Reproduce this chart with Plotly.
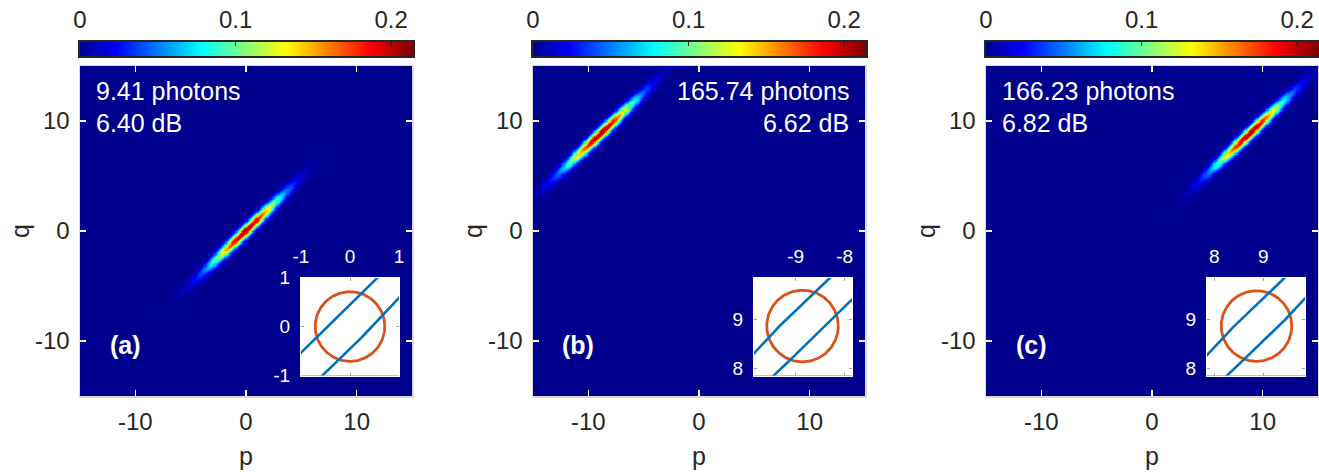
import numpy as np
import plotly.graph_objects as go

# ---------------- data ----------------
panel_labels = ["(a)", "(b)", "(c)"]
photon_text = ["9.41 photons", "165.74 photons", "166.23 photons"]
db_text = ["6.40 dB", "6.62 dB", "6.82 dB"]
text_side = ["left", "right", "left"]

# Gaussian quasi-probability parameters (centre, tilt, widths, peak)
center_p = [0.0, -8.86, 8.86]
center_q = [0.0, 8.86, 8.86]
tilt_deg = [44.5, 44.0, 44.0]
peak_value = [0.207, 0.207, 0.207]
sigma_major = [3.1, 3.1, 3.1]
sigma_minor = [0.32, 0.32, 0.32]

# inset contours
circle_radius = [0.71, 0.73, 0.72]
squeezed_half_width = [0.325, 0.325, 0.315]

main_ticks = [-10, 0, 10]
main_ticktext = ["-10", "0", "10"]
colorbar_ticks = [0, 0.1, 0.2]
colorbar_ticktext = ["0", "0.1", "0.2"]
color_max = 0.214
inset_xticks = [[-1, 0, 1], [-9, -8], [8, 9]]
inset_xticktext = [["-1", "0", "1"], ["-9", "-8"], ["8", "9"]]
inset_yticks = [[-1, 0, 1], [8, 9], [8, 9]]
inset_yticktext = [["-1", "0", "1"], ["8", "9"], ["8", "9"]]
inset_xrange = [[-1, 1], [-9.85, -7.85], [7.85, 9.85]]
inset_yrange = [[-1, 1], [7.85, 9.85], [7.85, 9.85]]

# ---------------- styling ----------------
W, H = 1319, 472
FONT = "Liberation Sans, Arial, Helvetica, sans-serif"
TXT = "#262626"
jet = [
    [0.0, "rgb(0,0,143)"],
    [0.111, "rgb(0,0,255)"],
    [0.365, "rgb(0,255,255)"],
    [0.619, "rgb(255,255,0)"],
    [0.873, "rgb(255,0,0)"],
    [1.0, "rgb(128,0,0)"],
]


def fx(px):
    return px / W


def fy(py):
    return 1 - py / H


main_left = [80, 533, 986]
main_w = 332
main_top, main_bot = 66, 396
strip_top, strip_bot = 42, 56
inset_dx0, inset_dx1 = 221, 319
inset_top, inset_bot = 277.5, 375.5

grid = np.linspace(-15, 15, 301)
P, Q = np.meshgrid(grid, grid)

fig = go.Figure()
layout = dict(
    width=W, height=H, margin=dict(l=0, r=0, t=0, b=0, pad=0, autoexpand=False),
    paper_bgcolor="white", plot_bgcolor="white", showlegend=False,
    font=dict(family=FONT, color=TXT),
    coloraxis=dict(colorscale=jet, cmin=0, cmax=color_max, showscale=False),
    annotations=[],
)

for i in range(3):
    L = main_left[i]
    # ---- main heatmap ----
    th = np.deg2rad(tilt_deg[i])
    dp, dq = P - center_p[i], Q - center_q[i]
    u = dp * np.cos(th) + dq * np.sin(th)
    v = -dp * np.sin(th) + dq * np.cos(th)
    z = peak_value[i] * np.exp(-(u ** 2) / (2 * sigma_major[i] ** 2) - (v ** 2) / (2 * sigma_minor[i] ** 2))
    z = np.round(z, 5)
    mx, my = ("x", "y") if i == 0 else (f"x{i+1}", f"y{i+1}")
    fig.add_trace(go.Heatmap(x=grid, y=grid, z=z, coloraxis="coloraxis",
                             xaxis=mx, yaxis=my, hoverinfo="skip"))
    axk = "" if i == 0 else str(i + 1)
    common = dict(range=[-15, 15], tickvals=main_ticks, ticktext=main_ticktext,
                  ticks="inside", ticklen=6, tickwidth=1.5,
                  tickcolor="white", showline=True, linecolor="#d9d9d9", linewidth=1.5,
                  mirror="ticks", showgrid=False, zeroline=False, automargin=False,
                  tickfont=dict(size=24, color=TXT, family=FONT))
    layout["xaxis" + axk] = dict(common, domain=[fx(L), fx(L + main_w)], anchor=my,
                                 ticklabelstandoff=4)
    layout["yaxis" + axk] = dict(common, domain=[fy(main_bot), fy(main_top)], anchor=mx,
                                 ticklabelstandoff=4)

    # ---- inset ----
    k = i + 4
    ix, iy = f"x{k}", f"y{k}"
    xr, yr = inset_xrange[i], inset_yrange[i]
    fig.add_trace(go.Heatmap(x=xr, y=yr, z=[[0, 0], [0, 0]],
                             colorscale=[[0, "white"], [1, "white"]], showscale=False,
                             xaxis=ix, yaxis=iy, hoverinfo="skip"))
    t = np.linspace(0, 2 * np.pi, 241)
    fig.add_trace(go.Scatter(x=center_p[i] + circle_radius[i] * np.cos(t),
                             y=center_q[i] + circle_radius[i] * np.sin(t),
                             mode="lines", line=dict(color="#D95319", width=2.8),
                             xaxis=ix, yaxis=iy, hoverinfo="skip"))
    t2 = np.linspace(0, 2 * np.pi, 4001)
    a, b = 6.0, squeezed_half_width[i]
    ex = a * np.cos(t2)
    ey = b * np.sin(t2)
    fig.add_trace(go.Scatter(x=center_p[i] + ex * np.cos(th) - ey * np.sin(th),
                             y=center_q[i] + ex * np.sin(th) + ey * np.cos(th),
                             mode="lines", line=dict(color="#0072BD", width=2.6),
                             xaxis=ix, yaxis=iy, hoverinfo="skip"))
    icommon = dict(ticks="inside", ticklen=3, tickwidth=1, tickcolor="#a0a0a0",
                   showline=True, linecolor="white", linewidth=1, mirror="ticks",
                   showgrid=False, zeroline=False, automargin=False,
                   tickfont=dict(size=19, color="white", family=FONT))
    layout[f"xaxis{k}"] = dict(icommon, domain=[fx(L + inset_dx0), fx(L + inset_dx1)],
                               range=xr, tickvals=inset_xticks[i], ticktext=inset_xticktext[i],
                               side="top", anchor=iy, ticklabelstandoff=6)
    layout[f"yaxis{k}"] = dict(icommon, domain=[fy(inset_bot), fy(inset_top)],
                               range=yr, tickvals=inset_yticks[i], ticktext=inset_yticktext[i],
                               anchor=ix, ticklabelstandoff=6)

    # ---- colour bar strip ----
    k = i + 7
    sx, sy = f"x{k}", f"y{k}"
    levels = np.linspace(0, color_max, 256)
    fig.add_trace(go.Heatmap(x=levels, y=[0], z=[levels], coloraxis="coloraxis",
                             xaxis=sx, yaxis=sy, hoverinfo="skip"))
    layout[f"xaxis{k}"] = dict(domain=[fx(L), fx(L + main_w + 1)], range=[0, color_max],
                               side="top", anchor=sy, tickvals=colorbar_ticks,
                               ticktext=colorbar_ticktext, ticks="inside", ticklen=4,
                               tickwidth=1.5, tickcolor=TXT, showline=True, mirror=True,
                               linecolor=TXT, linewidth=2, showgrid=False, zeroline=False,
                               automargin=False,
                               tickfont=dict(size=24, color=TXT, family=FONT),
                               ticklabelstandoff=2)
    layout[f"yaxis{k}"] = dict(domain=[fy(strip_bot), fy(strip_top)], range=[-0.5, 0.5],
                               anchor=sx, showticklabels=False, ticks="", showline=True,
                               mirror=True, linecolor=TXT, linewidth=2, showgrid=False,
                               zeroline=False, automargin=False)

    # ---- texts ----
    if text_side[i] == "left":
        tx, xa = L + 14, "left"
    else:
        tx, xa = L + main_w - 14, "right"
    for txt, py in ((photon_text[i], 91), (db_text[i], 122.5)):
        layout["annotations"].append(dict(text=txt, x=fx(tx), y=fy(py), xref="paper", yref="paper",
                                          xanchor=xa, yanchor="middle", showarrow=False,
                                          font=dict(size=25, color="white", family=FONT)))
    layout["annotations"].append(dict(text="<b>" + panel_labels[i] + "</b>", x=fx(L + 45), y=fy(345),
                                      xref="paper", yref="paper", xanchor="center", yanchor="middle",
                                      showarrow=False, font=dict(size=25, color="white", family=FONT)))
    layout["annotations"].append(dict(text="p", x=fx(L + main_w / 2), y=fy(456), xref="paper",
                                      yref="paper", xanchor="center", yanchor="middle",
                                      showarrow=False, font=dict(size=25, color=TXT, family=FONT)))
    layout["annotations"].append(dict(text="q", x=fx(L - 60), y=fy(231), xref="paper",
                                      yref="paper", xanchor="center", yanchor="middle", textangle=-90,
                                      showarrow=False, font=dict(size=25, color=TXT, family=FONT)))

fig.update_layout(**layout)
fig.write_html("out.html",
               config={"displayModeBar": False, "staticPlot": True},
               post_script="document.body.style.margin='0px';document.body.style.overflow='hidden';")
